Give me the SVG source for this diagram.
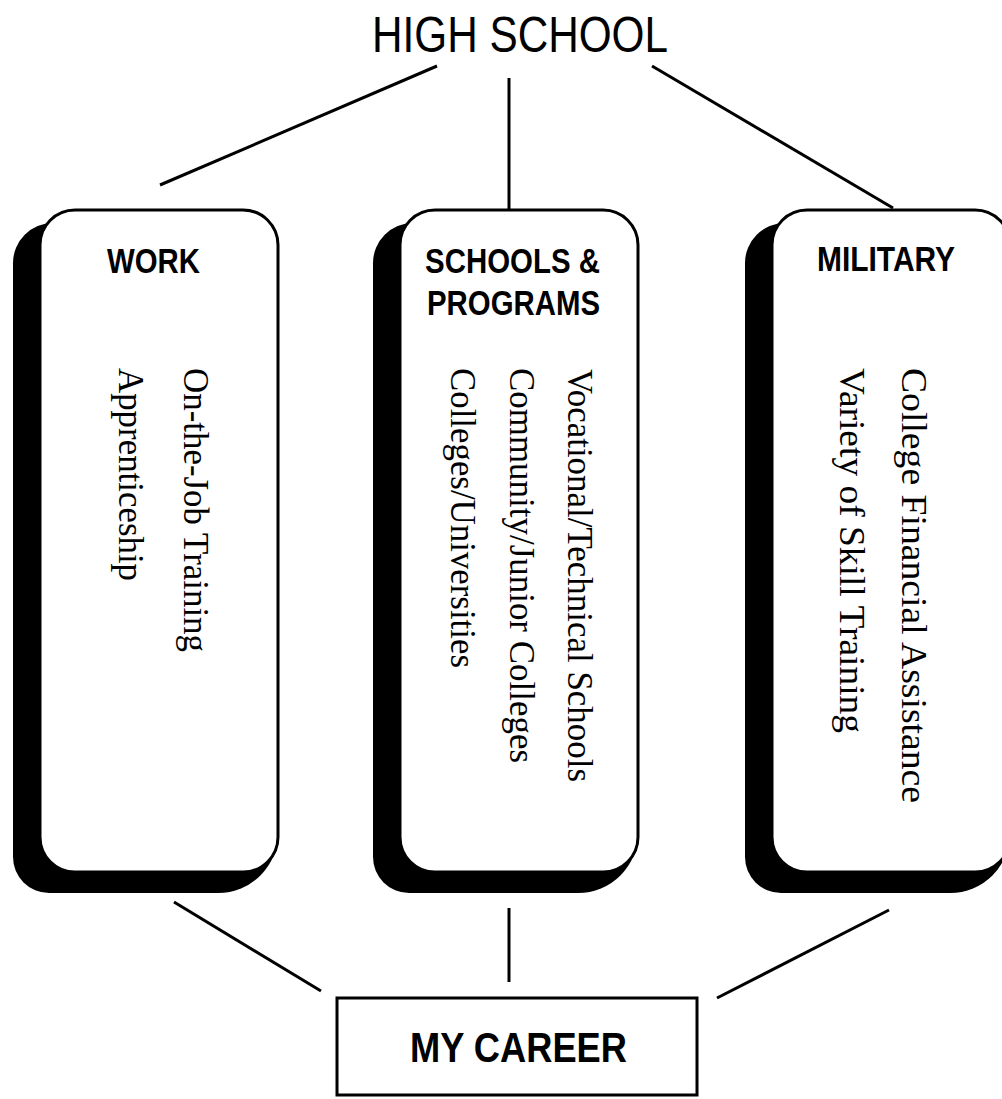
<svg xmlns="http://www.w3.org/2000/svg" width="1002" height="1099" viewBox="0 0 1002 1099">
<style>
.conn line{stroke:#000;stroke-width:3;stroke-linecap:butt}
.shadow{fill:#000}
.front{fill:#fff;stroke:#000;stroke-width:3}
.title{font-family:"Liberation Sans",Arial,sans-serif;font-size:50px;fill:#000}
.head{font-family:"Liberation Sans",Arial,sans-serif;font-weight:bold;font-size:35px;fill:#000}
.item{font-family:"Liberation Serif","Times New Roman",serif;font-size:35px;fill:#000}
</style>
<defs>
<path id="shd" d="M13,263 A40,40 0 0 1 53,223 L250,223 L278,250 L278,833 A60,60 0 0 1 218,893 L49,893 A36,36 0 0 1 13,857 Z"/>
</defs>
<rect width="1002" height="1099" fill="#fff"/>
<g id="high-school">
<text class="title" x="372" y="52" textLength="296" lengthAdjust="spacingAndGlyphs">HIGH SCHOOL</text>
</g>
<g id="connectors" class="conn">
<line x1="437" y1="66" x2="160" y2="185"/>
<line x1="509" y1="78" x2="509" y2="210"/>
<line x1="652" y1="66" x2="893" y2="208"/>
<line x1="174" y1="902" x2="321" y2="991"/>
<line x1="509" y1="908" x2="509" y2="982"/>
<line x1="889" y1="910" x2="717" y2="998"/>
</g>
<g id="work">
<use href="#shd" class="shadow"/>
<rect class="front" x="40" y="210" width="238" height="662" rx="35" ry="35"/>
<text class="head" x="107" y="273" textLength="93" lengthAdjust="spacingAndGlyphs">WORK</text>
<text class="item" transform="translate(184,368) rotate(90)" textLength="284" lengthAdjust="spacingAndGlyphs">On-the-Job Training</text>
<text class="item" transform="translate(119,368) rotate(90)" textLength="213" lengthAdjust="spacingAndGlyphs">Apprenticeship</text>
</g>
<g id="schools">
<use href="#shd" class="shadow" transform="translate(360,0)"/>
<rect class="front" x="400" y="210" width="238" height="662" rx="35" ry="35"/>
<text class="head" x="425" y="273" textLength="175" lengthAdjust="spacingAndGlyphs">SCHOOLS &amp;</text>
<text class="head" x="427" y="315" textLength="173" lengthAdjust="spacingAndGlyphs">PROGRAMS</text>
<text class="item" transform="translate(568,369) rotate(90)" textLength="413" lengthAdjust="spacingAndGlyphs">Vocational/Technical Schools</text>
<text class="item" transform="translate(510,368) rotate(90)" textLength="395" lengthAdjust="spacingAndGlyphs">Community/Junior Colleges</text>
<text class="item" transform="translate(451,368) rotate(90)" textLength="300" lengthAdjust="spacingAndGlyphs">Colleges/Universities</text>
</g>
<g id="military">
<use href="#shd" class="shadow" transform="translate(732,0)"/>
<rect class="front" x="772" y="210" width="238" height="662" rx="35" ry="35"/>
<text class="head" x="817" y="271" textLength="138" lengthAdjust="spacingAndGlyphs">MILITARY</text>
<text class="item" transform="translate(902,368) rotate(90)" textLength="435" lengthAdjust="spacingAndGlyphs">College Financial Assistance</text>
<text class="item" transform="translate(840,368) rotate(90)" textLength="365" lengthAdjust="spacingAndGlyphs">Variety of Skill Training</text>
</g>
<g id="my-career">
<rect x="337" y="998" width="360" height="97" fill="#fff" stroke="#000" stroke-width="3"/>
<text class="head" x="410" y="1062" style="font-size:42px" textLength="217" lengthAdjust="spacingAndGlyphs">MY CAREER</text>
</g>
</svg>
